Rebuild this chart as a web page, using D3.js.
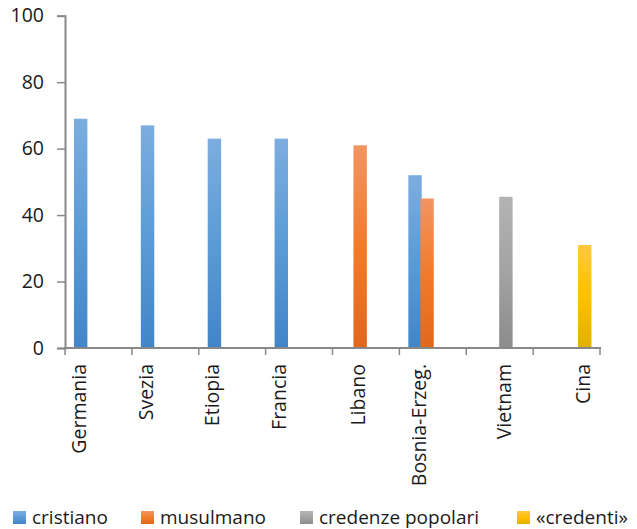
<!DOCTYPE html>
<html>
<head>
<meta charset="utf-8">
<script src="https://cdn.jsdelivr.net/npm/d3@7/dist/d3.min.js"></script>
<style>
  html, body { margin: 0; padding: 0; background: #fff; }
  svg { display: block; }
  text { font-family: "Open Sans", "Noto Sans", sans-serif; fill: #1a1a1a; }
</style>
</head>
<body>
<svg id="chart" width="637" height="529"></svg>
<script>
// Countries on the x axis
const categories = ["Germania", "Svezia", "Etiopia", "Francia", "Libano", "Bosnia-Erzeg.", "Vietnam", "Cina"];

// Share of each belief group (%) per country; 0 = not shown
const cristiano        = [69, 67, 63, 63, 0, 52, 0, 0];
const musulmano        = [0, 0, 0, 0, 61, 45, 0, 0];
const credenzePopolari = [0, 0, 0, 0, 0, 0, 45.5, 0];
const credenti         = [0, 0, 0, 0, 0, 0, 0, 31];

const seriesNames = ["cristiano", "musulmano", "credenze popolari", "«credenti»"];
const seriesValues = [cristiano, musulmano, credenzePopolari, credenti];

const yTicks = [0, 20, 40, 60, 80, 100];

// Gradient stops (top, middle, bottom) for each series
const seriesGradients = [
  ["#7caddf", "#5b9bd5", "#4285c8"],
  ["#f39461", "#f27b2a", "#e1681b"],
  ["#b3b3b3", "#a3a3a3", "#8c8c8c"],
  ["#ffc83e", "#ffc000", "#e0b000"]
];

const svg = d3.select("#chart");
const axisColor = "#888888";

const x = d3.scaleBand().domain(categories).range([65, 600]).padding(0);
const bw = x.bandwidth();
const x1 = d3.scaleBand().domain(seriesNames).range([bw * 0.134, bw * 0.851]).padding(0);
const barW = x1.step() * 1.12;
const y = d3.scaleLinear().domain([0, 100]).range([348, 15.7]);

// gradients
const defs = svg.append("defs");
seriesGradients.forEach((stops, i) => {
  const g = defs.append("linearGradient")
    .attr("id", "grad" + i)
    .attr("x1", 0).attr("y1", 0).attr("x2", 0).attr("y2", 1);
  g.append("stop").attr("offset", "0%").attr("stop-color", stops[0]);
  g.append("stop").attr("offset", "50%").attr("stop-color", stops[1]);
  g.append("stop").attr("offset", "100%").attr("stop-color", stops[2]);
});

// bars
const barData = [];
categories.forEach((c, ci) => {
  seriesNames.forEach((s, si) => {
    const v = seriesValues[si][ci];
    if (v > 0) barData.push({ cat: c, series: s, si, value: v });
  });
});

svg.append("g").selectAll("rect")
  .data(barData)
  .join("rect")
  .attr("x", d => x(d.cat) + x1(d.series))
  .attr("y", d => y(d.value))
  .attr("width", barW)
  .attr("height", d => y(0) - y(d.value))
  .attr("fill", d => "url(#grad" + d.si + ")");

// y axis
const yAxis = svg.append("g")
  .attr("transform", "translate(65,0)")
  .call(d3.axisLeft(y).tickValues(yTicks).tickSize(8).tickPadding(13).tickFormat(d3.format("d")));
yAxis.select(".domain").attr("stroke", axisColor).attr("stroke-width", 2);
yAxis.selectAll(".tick line").attr("stroke", axisColor).attr("stroke-width", 1.5);
yAxis.selectAll(".tick text").attr("font-size", 19.5).attr("fill", "#1a1a1a")
  .attr("font-family", "'Open Sans', sans-serif");

// x axis: line with tick marks at category boundaries
const xAxisG = svg.append("g");
xAxisG.append("line")
  .attr("x1", 64).attr("x2", x.range()[1] + 1)
  .attr("y1", y(0)).attr("y2", y(0))
  .attr("stroke", axisColor).attr("stroke-width", 2);
const boundaries = categories.map(c => x(c)).concat([x.range()[1]]);
xAxisG.selectAll("line.tk")
  .data(boundaries)
  .join("line")
  .attr("class", "tk")
  .attr("x1", d => d).attr("x2", d => d)
  .attr("y1", y(0)).attr("y2", y(0) + 7)
  .attr("stroke", axisColor).attr("stroke-width", 1.5);

// category labels, centred under the bars of each country
const labelX = categories.map((c, ci) => {
  const bars = barData.filter(b => b.cat === c);
  const left = d3.min(bars, b => x(b.cat) + x1(b.series));
  const right = d3.max(bars, b => x(b.cat) + x1(b.series) + barW);
  return (left + right) / 2 - 2;
});
xAxisG.selectAll("text")
  .data(categories)
  .join("text")
  .attr("transform", (d, i) => `translate(${labelX[i]},364) rotate(-90)`)
  .attr("text-anchor", "end")
  .attr("dy", "0.36em")
  .attr("font-size", 19.5)
  .text(d => d);

// legend
const legendX = [13, 141, 300, 517];
const legend = svg.append("g").selectAll("g")
  .data(seriesNames)
  .join("g")
  .attr("transform", (d, i) => `translate(${legendX[i]},511)`);
legend.append("rect")
  .attr("width", 13).attr("height", 13)
  .attr("fill", (d, i) => "url(#grad" + i + ")");
legend.append("text")
  .attr("x", 19).attr("y", 12.8)
  .attr("font-size", 19)
  .text(d => d);
</script>
</body>
</html>
